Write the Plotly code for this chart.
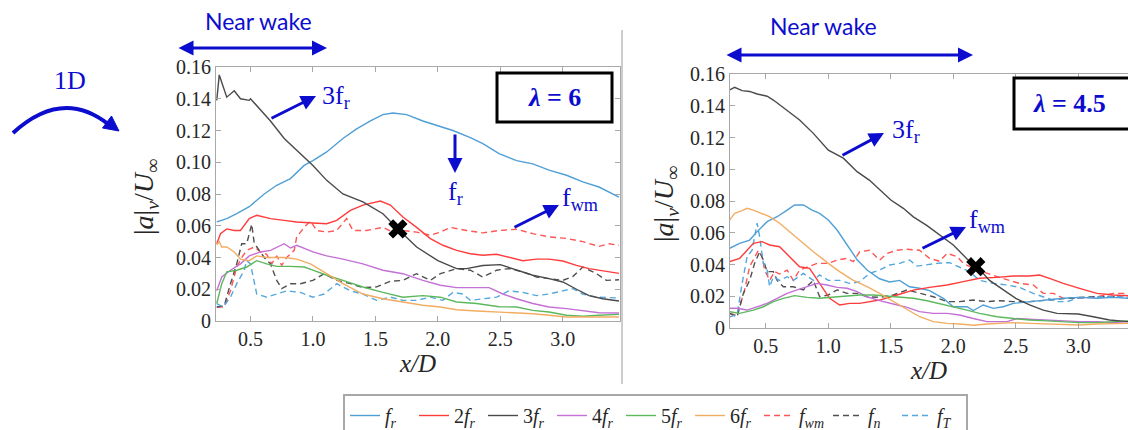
import plotly.graph_objects as go

W, H = 1128, 430

# ---------------- lambda = 6 (left panel) ----------------
l_fr_x = [0.23, 0.31, 0.39, 0.49, 0.61, 0.71, 0.82, 0.93, 1.00, 1.11, 1.24, 1.35, 1.46, 1.56, 1.64, 1.75, 1.88, 2.00,
          2.12, 2.26, 2.36, 2.49, 2.63, 2.76, 2.89, 3.03, 3.16, 3.29, 3.45]
l_fr_y = [0.0624, 0.0645, 0.0676, 0.072, 0.080, 0.0855, 0.0897, 0.098, 0.101, 0.1065, 0.115, 0.121, 0.126, 0.130,
          0.131, 0.130, 0.126, 0.123, 0.120, 0.1155, 0.1117, 0.1054, 0.101, 0.099, 0.095, 0.0918, 0.0876, 0.0844, 0.078]

l_2fr_x = [0.23, 0.26, 0.31, 0.37, 0.42, 0.49, 0.55, 0.66, 0.77, 0.87, 1.00, 1.11, 1.19, 1.30, 1.40, 1.54, 1.62, 1.72,
           1.83, 1.94, 2.04, 2.15, 2.26, 2.36, 2.47, 2.57, 2.68, 2.79, 2.89, 3.00, 3.11, 3.21, 3.32, 3.45]
l_2fr_y = [0.0487, 0.055, 0.058, 0.057, 0.057, 0.0645, 0.0666, 0.0645, 0.0634, 0.0624, 0.0617, 0.0613, 0.0634, 0.0697,
           0.073, 0.0756, 0.073, 0.0655, 0.059, 0.0519, 0.0477, 0.0445, 0.0424, 0.0414, 0.042, 0.040, 0.038, 0.039,
           0.039, 0.0378, 0.035, 0.033, 0.0315, 0.030]

l_3fr_x = [0.23, 0.25, 0.31, 0.37, 0.42, 0.49, 0.50, 0.61, 0.66, 0.77, 0.87, 1.00, 1.11, 1.24, 1.40, 1.56, 1.68, 1.83,
           2.00, 2.15, 2.23, 2.36, 2.50, 2.63, 2.76, 2.89, 3.00, 3.11, 3.21, 3.32, 3.45]
l_3fr_y = [0.139, 0.155, 0.141, 0.145, 0.140, 0.139, 0.140, 0.130, 0.126, 0.115, 0.1075, 0.098, 0.0886, 0.080, 0.075,
           0.0676, 0.058, 0.0466, 0.038, 0.033, 0.033, 0.035, 0.0355, 0.032, 0.0288, 0.0267, 0.0246, 0.020, 0.016,
           0.014, 0.0126]

l_4fr_x = [0.23, 0.27, 0.34, 0.42, 0.49, 0.58, 0.66, 0.77, 0.82, 0.87, 1.00, 1.11, 1.24, 1.40, 1.56, 1.72, 1.88, 2.02,
           2.15, 2.31, 2.41, 2.52, 2.63, 2.76, 2.89, 3.03, 3.16, 3.29, 3.45]
l_4fr_y = [0.019, 0.0277, 0.032, 0.036, 0.041, 0.0435, 0.0445, 0.0487, 0.046, 0.0477, 0.0435, 0.041, 0.039, 0.036,
           0.032, 0.0298, 0.0256, 0.0225, 0.021, 0.021, 0.021, 0.017, 0.014, 0.011, 0.0088, 0.0078, 0.0063, 0.0052,
           0.005]

l_5fr_x = [0.23, 0.27, 0.31, 0.39, 0.47, 0.55, 0.63, 0.71, 0.82, 0.93, 1.00, 1.11, 1.24, 1.40, 1.56, 1.72, 1.88, 2.02,
           2.15, 2.31, 2.49, 2.63, 2.76, 2.89, 3.03, 3.16, 3.29, 3.45]
l_5fr_y = [0.011, 0.0235, 0.031, 0.032, 0.034, 0.038, 0.036, 0.0344, 0.0344, 0.034, 0.032, 0.0288, 0.0256, 0.0214,
           0.018, 0.015, 0.016, 0.015, 0.012, 0.011, 0.009, 0.0088, 0.0067, 0.0057, 0.0036, 0.003, 0.0036, 0.0042]

l_6fr_x = [0.23, 0.25, 0.27, 0.31, 0.37, 0.42, 0.49, 0.55, 0.63, 0.77, 0.87, 0.98, 1.11, 1.24, 1.40, 1.56, 1.72, 1.88,
           2.02, 2.15, 2.31, 2.49, 2.63, 2.76, 2.89, 3.03, 3.16, 3.45]
l_6fr_y = [0.048, 0.050, 0.0466, 0.0466, 0.0435, 0.039, 0.038, 0.041, 0.040, 0.040, 0.039, 0.036, 0.0298, 0.0235,
           0.017, 0.014, 0.012, 0.0099, 0.0088, 0.0071, 0.0063, 0.0057, 0.0055, 0.0046, 0.0036, 0.0025, 0.0025, 0.0025]

l_fwm_x = [0.23, 0.29, 0.34, 0.39, 0.43, 0.47, 0.53, 0.58, 0.63, 0.67, 0.71, 0.75, 0.79, 0.85, 0.87, 0.93, 0.98, 1.03,
           1.11, 1.19, 1.27, 1.32, 1.43, 1.56, 1.64, 1.72, 1.83, 1.94, 2.02, 2.10, 2.23, 2.36, 2.49, 2.63, 2.76, 2.89,
           3.03, 3.16, 3.29, 3.37, 3.45]
l_fwm_y = [0.0088, 0.0088, 0.019, 0.034, 0.040, 0.0445, 0.0466, 0.0435, 0.042, 0.036, 0.041, 0.035, 0.040, 0.0445,
           0.053, 0.059, 0.063, 0.057, 0.056, 0.057, 0.0645, 0.057, 0.057, 0.059, 0.056, 0.057, 0.056, 0.054, 0.056,
           0.059, 0.057, 0.0555, 0.057, 0.0578, 0.055, 0.053, 0.052, 0.050, 0.047, 0.0487, 0.0477]

l_fn_x = [0.23, 0.29, 0.34, 0.39, 0.43, 0.47, 0.51, 0.53, 0.57, 0.61, 0.66, 0.71, 0.75, 0.82, 0.90, 1.00, 1.09, 1.19,
          1.30, 1.40, 1.51, 1.62, 1.72, 1.83, 1.94, 2.02, 2.15, 2.26, 2.36, 2.47, 2.57, 2.68, 2.79, 2.89, 3.00, 3.08,
          3.16, 3.27, 3.35, 3.45]
l_fn_y = [0.0088, 0.0095, 0.0235, 0.036, 0.0487, 0.0487, 0.061, 0.049, 0.0445, 0.040, 0.036, 0.0256, 0.0204, 0.0235,
          0.0235, 0.0256, 0.0298, 0.0256, 0.0235, 0.021, 0.0215, 0.025, 0.0256, 0.0298, 0.0256, 0.0298, 0.033, 0.032,
          0.0277, 0.032, 0.033, 0.031, 0.0277, 0.0267, 0.0256, 0.028, 0.034, 0.0298, 0.0256, 0.026]

l_fT_x = [0.23, 0.28, 0.34, 0.39, 0.45, 0.47, 0.50, 0.53, 0.55, 0.63, 0.71, 0.79, 0.90, 1.00, 1.09, 1.19, 1.30, 1.40,
          1.51, 1.62, 1.72, 1.83, 1.94, 2.04, 2.12, 2.20, 2.26, 2.36, 2.47, 2.57, 2.68, 2.79, 2.89, 3.00, 3.08, 3.16,
          3.27, 3.45]
l_fT_y = [0.011, 0.0088, 0.015, 0.0235, 0.032, 0.038, 0.036, 0.0235, 0.017, 0.015, 0.017, 0.019, 0.018, 0.015, 0.017,
          0.0235, 0.019, 0.017, 0.013, 0.015, 0.013, 0.013, 0.015, 0.013, 0.018, 0.017, 0.013, 0.014, 0.015, 0.019,
          0.018, 0.016, 0.017, 0.019, 0.0204, 0.017, 0.015, 0.0145]

# ---------------- lambda = 4.5 (right panel) ----------------
r_fr_x = [0.21, 0.29, 0.37, 0.43, 0.51, 0.59, 0.67, 0.73, 0.80, 0.87, 0.93, 1.00, 1.07, 1.15, 1.23, 1.31, 1.41, 1.49,
          1.57, 1.65, 1.73, 1.81, 1.92, 2.00, 2.11, 2.16, 2.24, 2.32, 2.40, 2.48, 2.61, 2.75, 2.88, 3.01, 3.15, 3.28,
          3.40]
r_fr_y = [0.0502, 0.0533, 0.0554, 0.0607, 0.067, 0.0701, 0.0743, 0.0775, 0.0775, 0.0743, 0.0722, 0.068, 0.0617, 0.052,
          0.043, 0.0365, 0.031, 0.029, 0.030, 0.026, 0.025, 0.0235, 0.0187, 0.0134, 0.0134, 0.011, 0.0145, 0.0124,
          0.0134, 0.0155, 0.0166, 0.0176, 0.0187, 0.0193, 0.0187, 0.0193, 0.0187]

r_2fr_x = [0.21, 0.29, 0.35, 0.40, 0.47, 0.53, 0.61, 0.69, 0.77, 0.85, 0.93, 1.01, 1.09, 1.17, 1.25, 1.33, 1.41, 1.55,
           1.68, 1.81, 1.95, 2.08, 2.21, 2.35, 2.48, 2.61, 2.69, 2.77, 2.88, 3.01, 3.15, 3.28, 3.40]
r_2fr_y = [0.0418, 0.0439, 0.049, 0.0533, 0.0544, 0.0523, 0.0512, 0.0449, 0.0386, 0.0376, 0.0281, 0.0187, 0.0145,
           0.0155, 0.0155, 0.0166, 0.0176, 0.0208, 0.0239, 0.0256, 0.0271, 0.0292, 0.0313, 0.0319, 0.0328, 0.0328,
           0.0334, 0.0313, 0.0281, 0.025, 0.0218, 0.0208, 0.0203]

r_3fr_x = [0.21, 0.25, 0.31, 0.37, 0.43, 0.51, 0.56, 0.67, 0.77, 0.88, 1.00, 1.12, 1.23, 1.33, 1.41, 1.50, 1.60, 1.68,
           1.79, 1.89, 2.00, 2.11, 2.19, 2.29, 2.40, 2.50, 2.61, 2.72, 2.83, 3.00, 3.12, 3.25, 3.40]
r_3fr_y = [0.150, 0.1516, 0.1495, 0.149, 0.1474, 0.146, 0.1436, 0.137, 0.131, 0.1226, 0.112, 0.107, 0.0985, 0.093,
           0.087, 0.0806, 0.0754, 0.070, 0.0645, 0.0586, 0.0523, 0.0435, 0.0386, 0.030, 0.024, 0.0187, 0.0145, 0.0113,
           0.0092, 0.0088, 0.0071, 0.005, 0.004]

r_4fr_x = [0.21, 0.27, 0.35, 0.43, 0.51, 0.59, 0.67, 0.75, 0.83, 0.91, 0.99, 1.07, 1.15, 1.23, 1.31, 1.41, 1.52, 1.63,
           1.73, 1.84, 1.95, 2.05, 2.16, 2.27, 2.43, 2.51, 2.61, 2.75, 2.88, 3.01, 3.15, 3.28, 3.40]
r_4fr_y = [0.0124, 0.0124, 0.0113, 0.0134, 0.0155, 0.0187, 0.0218, 0.024, 0.026, 0.0281, 0.0271, 0.0256, 0.025,
           0.0229, 0.0197, 0.0172, 0.0151, 0.013, 0.0103, 0.0092, 0.0092, 0.0082, 0.006, 0.004, 0.004, 0.006, 0.0055,
           0.005, 0.0045, 0.004, 0.004, 0.0034, 0.004]

r_5fr_x = [0.21, 0.29, 0.40, 0.48, 0.56, 0.64, 0.73, 0.83, 0.93, 1.04, 1.15, 1.25, 1.36, 1.47, 1.57, 1.68, 1.79, 1.89,
           2.00, 2.11, 2.21, 2.35, 2.48, 2.61, 2.75, 2.88, 3.01, 3.15, 3.28, 3.40]
r_5fr_y = [0.0103, 0.0092, 0.0113, 0.0134, 0.0166, 0.0187, 0.0204, 0.0193, 0.0187, 0.0193, 0.020, 0.0208, 0.0208,
           0.020, 0.0197, 0.0187, 0.0172, 0.0155, 0.0134, 0.0113, 0.0092, 0.0071, 0.006, 0.005, 0.0045, 0.004, 0.0034,
           0.0034, 0.004, 0.0045]

r_6fr_x = [0.21, 0.25, 0.31, 0.35, 0.40, 0.47, 0.53, 0.61, 0.69, 0.77, 0.88, 1.00, 1.09, 1.20, 1.31, 1.41, 1.52, 1.63,
           1.73, 1.84, 1.95, 2.05, 2.16, 2.27, 2.37, 2.48, 2.61, 2.75, 2.88, 3.01, 3.15, 3.28, 3.40]
r_6fr_y = [0.068, 0.0722, 0.0739, 0.0754, 0.0743, 0.0722, 0.0701, 0.066, 0.0607, 0.0554, 0.048, 0.0407, 0.0355, 0.030,
           0.026, 0.0218, 0.0166, 0.0113, 0.0071, 0.004, 0.0029, 0.0025, 0.0017, 0.0025, 0.0029, 0.0034, 0.0029, 0.0025,
           0.0025, 0.0019, 0.0025, 0.0025, 0.0029]

r_fwm_x = [0.21, 0.27, 0.29, 0.33, 0.37, 0.41, 0.44, 0.47, 0.49, 0.53, 0.57, 0.61, 0.67, 0.72, 0.77, 0.84, 0.91, 1.00,
           1.07, 1.15, 1.20, 1.25, 1.33, 1.41, 1.47, 1.55, 1.63, 1.73, 1.81, 1.89, 1.95, 2.03, 2.08, 2.16, 2.27, 2.35,
           2.45, 2.53, 2.64, 2.72, 2.80, 2.88, 3.01, 3.15, 3.28, 3.40]
r_fwm_y = [0.0092, 0.008, 0.0134, 0.024, 0.0386, 0.045, 0.049, 0.045, 0.0365, 0.030, 0.0355, 0.034, 0.0365, 0.030,
           0.0365, 0.0386, 0.0407, 0.0407, 0.0428, 0.0439, 0.0418, 0.048, 0.049, 0.0428, 0.047, 0.049, 0.0496, 0.049,
           0.0439, 0.042, 0.047, 0.045, 0.0407, 0.0376, 0.0344, 0.0323, 0.030, 0.0281, 0.0271, 0.0218, 0.0218,
           0.0187, 0.0187, 0.0197, 0.0218, 0.0218]

r_fn_x = [0.21, 0.27, 0.32, 0.37, 0.41, 0.45, 0.48, 0.51, 0.56, 0.59, 0.64, 0.72, 0.80, 0.88, 0.93, 1.00, 1.07, 1.15,
          1.23, 1.31, 1.41, 1.52, 1.63, 1.73, 1.84, 1.95, 2.05, 2.16, 2.27, 2.37, 2.48, 2.61, 2.75, 2.88, 3.01, 3.15,
          3.28, 3.40]
r_fn_y = [0.0092, 0.007, 0.0218, 0.030, 0.0407, 0.048, 0.0428, 0.0355, 0.0355, 0.030, 0.026, 0.026, 0.024, 0.030,
          0.0197, 0.0208, 0.024, 0.0218, 0.0218, 0.0197, 0.0193, 0.0208, 0.024, 0.0218, 0.0197, 0.0166, 0.0166,
          0.0176, 0.0166, 0.0172, 0.0166, 0.0166, 0.0176, 0.0187, 0.0193, 0.0197, 0.0197, 0.0208]

r_fT_x = [0.21, 0.27, 0.31, 0.35, 0.39, 0.43, 0.45, 0.48, 0.51, 0.53, 0.56, 0.61, 0.67, 0.72, 0.80, 0.88, 0.93, 1.00,
          1.09, 1.17, 1.25, 1.33, 1.41, 1.49, 1.57, 1.65, 1.71, 1.79, 1.87, 1.97, 2.05, 2.13, 2.21, 2.32, 2.43, 2.53,
          2.64, 2.75, 2.83, 2.91, 2.99, 3.09, 3.20, 3.28, 3.40]
r_fT_y = [0.007, 0.0085, 0.028, 0.045, 0.049, 0.066, 0.0575, 0.0407, 0.0365, 0.026, 0.0323, 0.030, 0.0323, 0.030,
          0.0344, 0.030, 0.0334, 0.030, 0.030, 0.0281, 0.029, 0.0344, 0.0365, 0.0397, 0.0407, 0.0428, 0.039, 0.040,
          0.0407, 0.0412, 0.0386, 0.0355, 0.030, 0.0281, 0.0271, 0.0256, 0.0218, 0.0187, 0.0166, 0.0166, 0.0187,
          0.0193, 0.0197, 0.020, 0.0193]

# crossing points of 3f_r with f_wm
l_cross = (1.68, 0.058)
r_cross = (2.18, 0.0386)

series_names = ["<i>f<sub>r</sub></i>", "2<i>f<sub>r</sub></i>", "3<i>f<sub>r</sub></i>", "4<i>f<sub>r</sub></i>",
                "5<i>f<sub>r</sub></i>", "6<i>f<sub>r</sub></i>", "<i>f<sub>wm</sub></i>", "<i>f<sub>n</sub></i>",
                "<i>f<sub>T</sub></i>"]
series_colors = ["#4f9fd6", "#ff3c3c", "#4a4a4a", "#c470d6", "#5cb85c", "#f2ad62", "#ff5555", "#505050", "#55a8de"]
series_dash = ["solid"] * 6 + ["dash"] * 3

left_data = [(l_fr_x, l_fr_y), (l_2fr_x, l_2fr_y), (l_3fr_x, l_3fr_y), (l_4fr_x, l_4fr_y), (l_5fr_x, l_5fr_y),
             (l_6fr_x, l_6fr_y), (l_fwm_x, l_fwm_y), (l_fn_x, l_fn_y), (l_fT_x, l_fT_y)]
right_data = [(r_fr_x, r_fr_y), (r_2fr_x, r_2fr_y), (r_3fr_x, r_3fr_y), (r_4fr_x, r_4fr_y), (r_5fr_x, r_5fr_y),
              (r_6fr_x, r_6fr_y), (r_fwm_x, r_fwm_y), (r_fn_x, r_fn_y), (r_fT_x, r_fT_y)]

y_ticks = [0, 0.02, 0.04, 0.06, 0.08, 0.10, 0.12, 0.14, 0.16]
y_labels = ["0", "0.02", "0.04", "0.06", "0.08", "0.10", "0.12", "0.14", "0.16"]
x_ticks = [0.5, 1.0, 1.5, 2.0, 2.5, 3.0]
x_labels = ["0.5", "1.0", "1.5", "2.0", "2.5", "3.0"]

SERIF = '"Liberation Serif", "Times New Roman", Times, serif'
SANS = 'Lato, "Open Sans", sans-serif'

fig = go.Figure()

draw_order = [6, 7, 8, 0, 1, 3, 4, 5, 2]
for panel, data, xa, ya in [("L", left_data, "x", "y"), ("R", right_data, "x2", "y2")]:
    for i in draw_order:
        xs, ys = data[i]
        fig.add_trace(go.Scatter(
            x=xs, y=ys, mode="lines", xaxis=xa, yaxis=ya,
            name=series_names[i], legendgroup=str(i), legendrank=i + 1,
            showlegend=(panel == "L"),
            line=dict(color=series_colors[i], width=1.4, dash="6px,4px" if series_dash[i] == "dash" else "solid"),
        ))

for (cx, cy), xa, ya in [(l_cross, "x", "y"), (r_cross, "x2", "y2")]:
    fig.add_trace(go.Scatter(x=[cx], y=[cy], mode="markers", xaxis=xa, yaxis=ya, showlegend=False,
                             marker=dict(symbol="x", size=17, color="black", line=dict(width=0))))

FRAME = "#a8a8a8"
TICKFONT = dict(family=SERIF, size=20, color="#262626")
TITLEFONT = dict(family=SERIF, size=25, color="#262626")


def xaxis_cfg(domain, rng, anchor):
    return dict(domain=domain, range=rng, anchor=anchor, tickvals=x_ticks, ticktext=x_labels, ticks="inside",
                ticklen=5, tickcolor=FRAME, showline=True, linecolor=FRAME, linewidth=1, mirror="ticks",
                showgrid=False, zeroline=False, tickfont=TICKFONT,
                title=dict(text="<i>x/D</i>", font=TITLEFONT, standoff=5))


def yaxis_cfg(domain, mirror, anchor):
    return dict(domain=domain, range=[0, 0.16], anchor=anchor, tickvals=y_ticks, ticktext=y_labels, ticks="inside",
                ticklen=5, tickcolor=FRAME, showline=True, linecolor=FRAME, linewidth=1, mirror=mirror,
                showgrid=False, zeroline=False, tickfont=TICKFONT)


def px(x):
    return x / W


def py(y):
    return 1 - y / H


def label(cx, cy, text, font, angle=0):
    return dict(x=px(cx), y=py(cy), xref="paper", yref="paper", xanchor="center", yanchor="middle",
                showarrow=False, text=text, font=font, textangle=angle)


BLUE = "#0c0ccf"
annotations = []
shapes = []

# y-axis titles
for cx, cy in [(145, 197), (665, 204)]:
    annotations.append(label(cx, cy, "|<i>a</i>|<sub><i>v</i></sub>/<i>U</i><sub>\u221e</sub>",
                             dict(family=SERIF, size=28, color="#262626"), angle=-90))

# lambda boxes
shapes.append(dict(type="rect", xref="paper", yref="paper", x0=px(497), x1=px(612), y0=py(73), y1=py(122),
                   line=dict(color="black", width=3), fillcolor="white"))
shapes.append(dict(type="rect", xref="paper", yref="paper", x0=px(1014), x1=px(1135), y0=py(78), y1=py(129),
                   line=dict(color="black", width=3), fillcolor="white"))
annotations.append(label(554, 98, "<b><i>\u03bb</i> = 6</b>", dict(family=SERIF, size=26, color=BLUE)))
annotations.append(label(1069, 104, "<b><i>\u03bb</i> = 4.5</b>", dict(family=SERIF, size=26, color=BLUE)))

# blue labels
LBLFONT = dict(family=SERIF, size=26, color=BLUE)
for cx, cy, txt in [(336, 97, "3f<sub>r</sub>"), (456, 193, "f<sub>r</sub>"), (580, 199, "f<sub>wm</sub>"),
                    (906, 131, "3f<sub>r</sub>"), (987, 221, "f<sub>wm</sub>"), (70, 81, "1D")]:
    annotations.append(label(cx, cy, txt, LBLFONT))

annotations.append(label(258, 21, "Near wake", dict(family=SANS, size=23, color=BLUE)))
annotations.append(label(823, 26, "Near wake", dict(family=SANS, size=23, color=BLUE)))


def arrow(x0, y0, x1, y1, both=False):
    a = dict(x=px(x1), y=py(y1), xref="paper", yref="paper", ax=x0 - x1, ay=y0 - y1, axref="pixel", ayref="pixel",
             text="", showarrow=True, arrowhead=2, arrowsize=1.0, arrowwidth=3, arrowcolor=BLUE)
    if both:
        a.update(arrowside="end+start", startarrowhead=2, startarrowsize=1.0)
    return a


annotations += [
    arrow(270, 119, 316, 96),
    arrow(455, 133, 455, 173),
    arrow(513, 228, 559, 205),
    arrow(841, 156, 884, 133),
    arrow(921, 249, 966, 227),
    arrow(177, 48, 327, 48, both=True),
    arrow(725, 55, 973, 55, both=True),
]

# curved "1D" arrow
shapes.append(dict(type="path", xref="paper", yref="paper",
                   path=f"M {px(13)},{py(133)} Q {px(62)},{py(88)} {px(108)},{py(124)}",
                   line=dict(color=BLUE, width=4)))
shapes.append(dict(type="path", xref="paper", yref="paper",
                   path=f"M {px(119)},{py(131)} L {px(102.5)},{py(128)} L {px(111.5)},{py(116)} Z",
                   line=dict(color=BLUE, width=1), fillcolor=BLUE))

# panel separator
shapes.append(dict(type="line", xref="paper", yref="paper", x0=px(622), x1=px(622), y0=py(30), y1=py(384),
                   line=dict(color="#9a9a9a", width=1)))

fig.update_layout(
    width=W, height=H, margin=dict(l=0, r=0, t=0, b=0, autoexpand=False),
    paper_bgcolor="white", plot_bgcolor="white",
    xaxis=xaxis_cfg([px(216), px(620)], [0.224, 3.458], "y"),
    yaxis=yaxis_cfg([py(321), py(67)], "ticks", "x"),
    xaxis2=xaxis_cfg([px(730), 1.0], [0.213, 3.398], "y2"),
    yaxis2=yaxis_cfg([py(328), py(74)], False, "x2"),
    legend=dict(orientation="h", x=px(343), xanchor="left", y=py(394), yanchor="top",
                bordercolor="#a8a8a8", borderwidth=2, bgcolor="white",
                font=dict(family=SERIF, size=20, color="#262626"),
                itemwidth=30, traceorder="normal", entrywidth=24, entrywidthmode="pixels"),
    annotations=annotations, shapes=shapes,
)

fig.write_html("out.html")
